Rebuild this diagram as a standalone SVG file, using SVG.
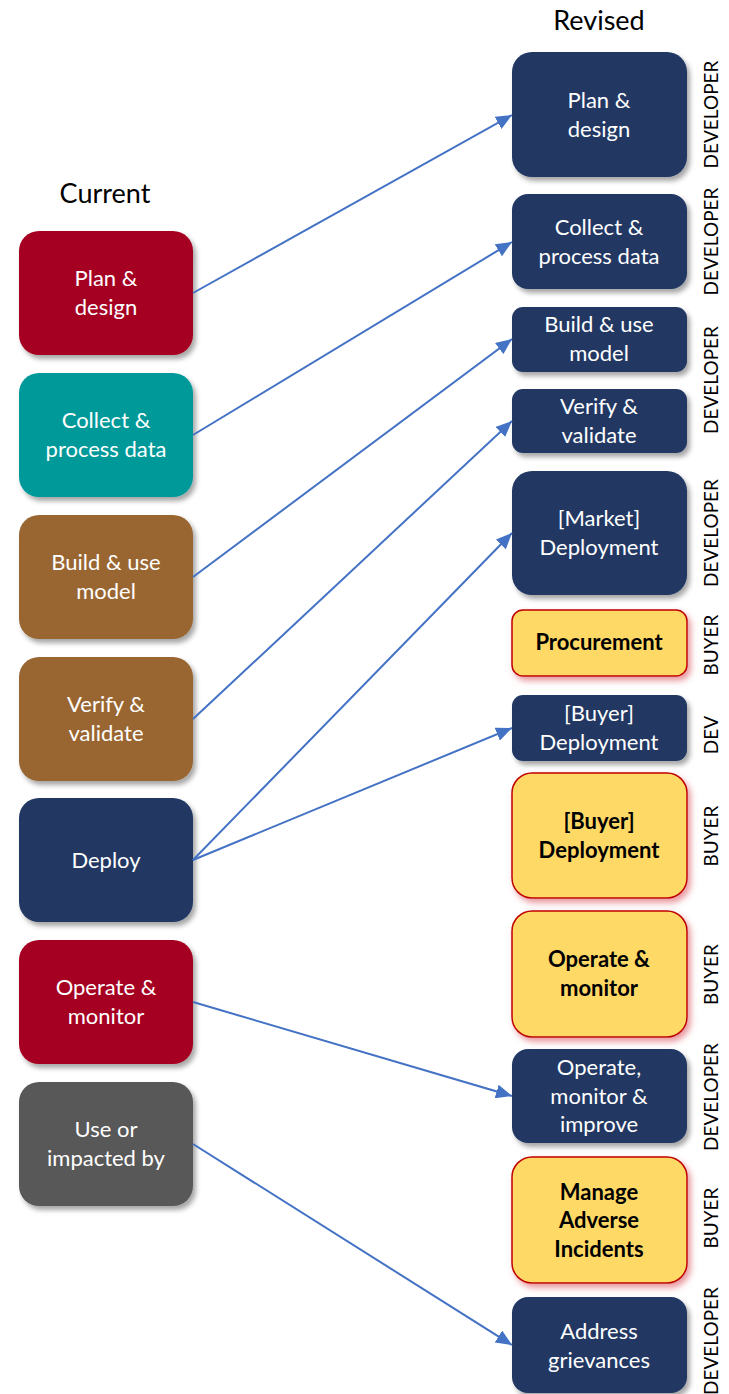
<svg xmlns="http://www.w3.org/2000/svg" width="729" height="1394" viewBox="0 0 729 1394">
  <style>
    text { font-family: Lato, "Open Sans", "Liberation Sans", sans-serif; }
    .title { font-size: 27px; fill: #000; text-anchor: middle; }
    .lbl { font-size: 22px; fill: #fff; text-anchor: middle; }
    .blbl { font-size: 22px; fill: #000; font-weight: bold; text-anchor: middle; }
    .role { font-size: 19px; fill: #000; text-anchor: middle; }
    .shade { filter: url(#shadow); }
    .glow { fill: #FFD966; stroke: #C00000; stroke-width: 1.5; filter: url(#redglow); }
    .navy { fill: #203864; }
    .conn { stroke: #4472C4; stroke-width: 2; fill: none; marker-end: url(#arrow); }
  </style>
  <defs>
    <filter id="shadow" x="-10%" y="-10%" width="125%" height="130%">
      <feGaussianBlur in="SourceAlpha" stdDeviation="2.5"/>
      <feOffset dx="3" dy="4" result="b"/>
      <feFlood flood-color="#000" flood-opacity="0.35"/>
      <feComposite in2="b" operator="in"/>
      <feMerge><feMergeNode/><feMergeNode in="SourceGraphic"/></feMerge>
    </filter>
    <filter id="redglow" x="-10%" y="-10%" width="125%" height="130%">
      <feGaussianBlur in="SourceAlpha" stdDeviation="3"/>
      <feOffset dx="3" dy="4" result="b"/>
      <feFlood flood-color="#D9505A" flood-opacity="0.6"/>
      <feComposite in2="b" operator="in"/>
      <feMerge><feMergeNode/><feMergeNode in="SourceGraphic"/></feMerge>
    </filter>
    <marker id="arrow" markerUnits="userSpaceOnUse" markerWidth="17" markerHeight="14" refX="16" refY="7" orient="auto">
      <path d="M0,0 L16,7 L0,14 Z" fill="#4472C4"/>
    </marker>
  </defs>

  <text class="title" x="105" y="203">Current</text>
  <text class="title" x="599" y="30">Revised</text>

  <!-- current stages -->
  <g id="cur-plan">
    <rect class="shade" x="19" y="231" width="174" height="124" rx="20" fill="#A50021"/>
    <text class="lbl" x="106" y="286">Plan &amp;</text>
    <text class="lbl" x="106" y="315">design</text>
  </g>
  <g id="cur-collect">
    <rect class="shade" x="19" y="373" width="174" height="124" rx="20" fill="#009999"/>
    <text class="lbl" x="106" y="428">Collect &amp;</text>
    <text class="lbl" x="106" y="457">process data</text>
  </g>
  <g id="cur-build">
    <rect class="shade" x="19" y="515" width="174" height="124" rx="20" fill="#996633"/>
    <text class="lbl" x="106" y="570">Build &amp; use</text>
    <text class="lbl" x="106" y="599">model</text>
  </g>
  <g id="cur-verify">
    <rect class="shade" x="19" y="657" width="174" height="124" rx="20" fill="#996633"/>
    <text class="lbl" x="106" y="712">Verify &amp;</text>
    <text class="lbl" x="106" y="741">validate</text>
  </g>
  <g id="cur-deploy">
    <rect class="shade" x="19" y="798" width="174" height="124" rx="20" fill="#203864"/>
    <text class="lbl" x="106" y="868">Deploy</text>
  </g>
  <g id="cur-operate">
    <rect class="shade" x="19" y="940" width="174" height="124" rx="20" fill="#A50021"/>
    <text class="lbl" x="106" y="995">Operate &amp;</text>
    <text class="lbl" x="106" y="1024">monitor</text>
  </g>
  <g id="cur-use">
    <rect class="shade" x="19" y="1082" width="174" height="124" rx="20" fill="#595959"/>
    <text class="lbl" x="106" y="1137">Use or</text>
    <text class="lbl" x="106" y="1166">impacted by</text>
  </g>

  <!-- revised stages -->
  <g id="rev-plan">
    <rect class="shade navy" x="512" y="52" width="175" height="125" rx="20"/>
    <text class="lbl" x="599" y="108">Plan &amp;</text>
    <text class="lbl" x="599" y="137">design</text>
    <text class="role" transform="translate(718,114.5) rotate(-90)">DEVELOPER</text>
  </g>
  <g id="rev-collect">
    <rect class="shade navy" x="512" y="194" width="175" height="95" rx="16"/>
    <text class="lbl" x="599" y="235">Collect &amp;</text>
    <text class="lbl" x="599" y="264">process data</text>
    <text class="role" transform="translate(718,241.5) rotate(-90)">DEVELOPER</text>
  </g>
  <g id="rev-build">
    <rect class="shade navy" x="512" y="307" width="175" height="65" rx="11"/>
    <text class="lbl" x="599" y="332">Build &amp; use</text>
    <text class="lbl" x="599" y="361">model</text>
  </g>
  <g id="rev-verify">
    <rect class="shade navy" x="512" y="389" width="175" height="64" rx="11"/>
    <text class="lbl" x="599" y="414">Verify &amp;</text>
    <text class="lbl" x="599" y="443">validate</text>
    <text class="role" transform="translate(718,380) rotate(-90)">DEVELOPER</text>
  </g>
  <g id="rev-market">
    <rect class="shade navy" x="512" y="471" width="175" height="124" rx="20"/>
    <text class="lbl" x="599" y="526">[Market]</text>
    <text class="lbl" x="599" y="555">Deployment</text>
    <text class="role" transform="translate(718,533) rotate(-90)">DEVELOPER</text>
  </g>
  <g id="rev-procure">
    <rect class="glow" x="512" y="610" width="175" height="66" rx="11"/>
    <text class="blbl" x="599" y="650">Procurement</text>
    <text class="role" transform="translate(718,645) rotate(-90)">BUYER</text>
  </g>
  <g id="rev-buyer-dev">
    <rect class="shade navy" x="512" y="695" width="175" height="66" rx="11"/>
    <text class="lbl" x="599" y="721">[Buyer]</text>
    <text class="lbl" x="599" y="750">Deployment</text>
    <text class="role" transform="translate(718,735) rotate(-90)">DEV</text>
  </g>
  <g id="rev-buyer-deploy">
    <rect class="glow" x="512" y="773" width="175" height="125" rx="20"/>
    <text class="blbl" x="599" y="829">[Buyer]</text>
    <text class="blbl" x="599" y="858">Deployment</text>
    <text class="role" transform="translate(718,836) rotate(-90)">BUYER</text>
  </g>
  <g id="rev-operate-buyer">
    <rect class="glow" x="512" y="911" width="175" height="126" rx="20"/>
    <text class="blbl" x="599" y="967">Operate &amp;</text>
    <text class="blbl" x="599" y="996">monitor</text>
    <text class="role" transform="translate(718,974.5) rotate(-90)">BUYER</text>
  </g>
  <g id="rev-operate-dev">
    <rect class="shade navy" x="512" y="1049" width="175" height="94" rx="16"/>
    <text class="lbl" x="599" y="1075">Operate,</text>
    <text class="lbl" x="599" y="1104">monitor &amp;</text>
    <text class="lbl" x="599" y="1132">improve</text>
    <text class="role" transform="translate(718,1097) rotate(-90)">DEVELOPER</text>
  </g>
  <g id="rev-incidents">
    <rect class="glow" x="512" y="1157" width="175" height="126" rx="20"/>
    <text class="blbl" x="599" y="1200">Manage</text>
    <text class="blbl" x="599" y="1228">Adverse</text>
    <text class="blbl" x="599" y="1257">Incidents</text>
    <text class="role" transform="translate(718,1218) rotate(-90)">BUYER</text>
  </g>
  <g id="rev-grievances">
    <rect class="shade navy" x="512" y="1297" width="175" height="96" rx="16"/>
    <text class="lbl" x="599" y="1339">Address</text>
    <text class="lbl" x="599" y="1368">grievances</text>
    <text class="role" transform="translate(718,1341) rotate(-90)">DEVELOPER</text>
  </g>

  <!-- connectors -->
  <g id="connectors">
    <line class="conn" x1="193" y1="293" x2="512" y2="115"/>
    <line class="conn" x1="193" y1="435" x2="512" y2="242"/>
    <line class="conn" x1="193" y1="577" x2="512" y2="339"/>
    <line class="conn" x1="193" y1="719" x2="512" y2="421"/>
    <line class="conn" x1="193" y1="860" x2="512" y2="533"/>
    <line class="conn" x1="193" y1="860" x2="512" y2="728"/>
    <line class="conn" x1="193" y1="1002" x2="512" y2="1096"/>
    <line class="conn" x1="193" y1="1144" x2="512" y2="1345"/>
  </g>
</svg>
